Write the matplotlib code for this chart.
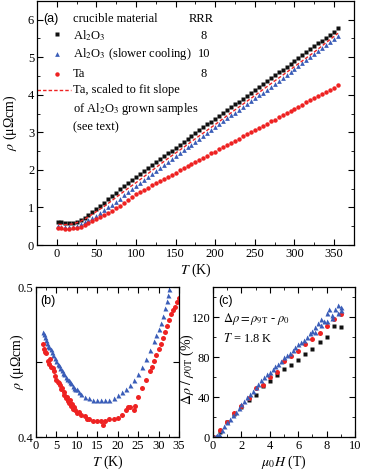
import matplotlib
matplotlib.use('Agg')
import matplotlib.pyplot as plt
from matplotlib.ticker import MultipleLocator, FixedLocator

plt.rcParams['font.family'] = 'serif'
plt.rcParams['font.serif'] = ['Liberation Serif', 'DejaVu Serif']
plt.rcParams['mathtext.fontset'] = 'stix'
plt.rcParams['font.size'] = 9
plt.rcParams['axes.labelsize'] = 10
plt.rcParams['xtick.direction'] = 'in'
plt.rcParams['ytick.direction'] = 'in'
plt.rcParams['xtick.top'] = True
plt.rcParams['ytick.right'] = True

# ---- panel (a): rho(T), 2 - 355 K
T_a = [2, 5, 10, 15, 20, 25, 30, 35, 40, 45, 50, 55, 60, 65, 70, 75, 80, 85, 90, 95,
       100, 105, 110, 115, 120, 125, 130, 135, 140, 145, 150, 155, 160, 165, 170, 175,
       180, 185, 190, 195, 200, 205, 210, 215, 220, 225, 230, 235, 240, 245, 250, 255,
       260, 265, 270, 275, 280, 285, 290, 295, 300, 305, 310, 315, 320, 325, 330, 335,
       340, 345, 350, 355]
rho_al2o3 = [0.62, 0.61, 0.59, 0.58, 0.59, 0.62, 0.67, 0.73, 0.80, 0.88, 0.96, 1.05, 1.13,
             1.22, 1.31, 1.39, 1.48, 1.57, 1.65, 1.73, 1.81, 1.89, 1.97, 2.05, 2.13, 2.20,
             2.28, 2.36, 2.44, 2.51, 2.59, 2.67, 2.74, 2.82, 2.90, 2.98, 3.05, 3.13, 3.21,
             3.28, 3.36, 3.44, 3.52, 3.59, 3.67, 3.75, 3.82, 3.90, 3.98, 4.06, 4.13, 4.21,
             4.29, 4.36, 4.44, 4.52, 4.60, 4.67, 4.75, 4.83, 4.90, 4.98, 5.06, 5.14, 5.21,
             5.29, 5.37, 5.44, 5.52, 5.60, 5.68, 5.77]
rho_al2o3_slow = [0.50, 0.49, 0.47, 0.47, 0.48, 0.51, 0.55, 0.60, 0.66, 0.72, 0.78, 0.85,
                  0.92, 1.00, 1.07, 1.15, 1.23, 1.32, 1.40, 1.49, 1.57, 1.66, 1.74, 1.82,
                  1.90, 1.98, 2.06, 2.13, 2.21, 2.29, 2.37, 2.44, 2.52, 2.60, 2.67, 2.75,
                  2.83, 2.91, 2.98, 3.06, 3.14, 3.21, 3.29, 3.37, 3.45, 3.52, 3.60, 3.68,
                  3.75, 3.83, 3.91, 3.99, 4.06, 4.14, 4.22, 4.29, 4.37, 4.45, 4.53, 4.60,
                  4.68, 4.76, 4.84, 4.92, 5.00, 5.08, 5.16, 5.24, 5.32, 5.40, 5.48, 5.56]
rho_ta = [0.45, 0.44, 0.43, 0.43, 0.44, 0.46, 0.49, 0.53, 0.58, 0.63, 0.68, 0.74, 0.79,
          0.85, 0.91, 0.98, 1.05, 1.12, 1.20, 1.27, 1.35, 1.41, 1.47, 1.53, 1.59, 1.65,
          1.70, 1.76, 1.82, 1.87, 1.93, 1.99, 2.04, 2.10, 2.16, 2.21, 2.27, 2.33, 2.38,
          2.44, 2.49, 2.55, 2.61, 2.66, 2.72, 2.78, 2.83, 2.89, 2.95, 3.00, 3.06, 3.12,
          3.17, 3.23, 3.29, 3.34, 3.40, 3.46, 3.51, 3.57, 3.63, 3.68, 3.74, 3.80, 3.85,
          3.91, 3.97, 4.02, 4.08, 4.14, 4.19, 4.25]
T_scaled = [2, 10, 20, 30, 40, 50, 60, 70, 80, 90, 100, 110, 120, 140, 160, 180, 200,
            225, 250, 275, 300, 325, 355]
rho_ta_scaled = [0.55, 0.54, 0.56, 0.63, 0.75, 0.89, 1.03, 1.19, 1.35, 1.51, 1.66, 1.82,
                 1.98, 2.30, 2.60, 2.91, 3.21, 3.60, 3.98, 4.37, 4.75, 5.14, 5.64]

# ---- panel (b): low-T zoom
T_b_slow = [1.8, 2.0, 2.2, 2.5, 2.8, 3.0, 3.3, 3.6, 4.0, 4.3, 4.6, 5.0, 5.3, 5.6, 6.0,
            6.3, 6.6, 7.0, 7.3, 7.6, 8.0, 8.3, 8.6, 9.0, 9.3, 9.6, 10.0, 10.5, 11, 12, 13,
            14, 15, 16, 17, 18, 19, 20, 21, 22, 23, 24, 25, 26, 27, 28, 29, 29.5, 30,
            30.5, 31, 31.5, 32, 32.3, 32.6]
rho_b_slow = [0.470, 0.469, 0.467, 0.465, 0.463, 0.461, 0.460, 0.459, 0.457, 0.455, 0.453,
              0.451, 0.449, 0.448, 0.446, 0.445, 0.443, 0.442, 0.440, 0.439, 0.438, 0.437,
              0.436, 0.434, 0.433, 0.432, 0.432, 0.430, 0.429, 0.427, 0.426, 0.425, 0.4245,
              0.4245, 0.425, 0.425, 0.426, 0.428, 0.430, 0.432, 0.435, 0.438, 0.442, 0.447,
              0.452, 0.458, 0.464, 0.468, 0.472, 0.476, 0.481, 0.486, 0.491, 0.495, 0.499]
T_b_ta = [1.8, 2.0, 2.3, 2.6, 3.0, 3.2, 3.5, 3.8, 4.2, 4.5, 4.8, 5.0, 5.3, 5.6, 6.0, 6.2,
          6.5, 6.8, 7.0, 7.3, 7.5, 7.8, 8.0, 8.3, 8.5, 8.8, 9.0, 9.3, 9.6, 10.0, 10.5, 11,
          12, 12.5, 13, 14, 15, 16, 16.5, 17, 18, 19, 20, 21, 22, 22.5, 23, 24, 24.3, 25,
          26, 27, 28, 28.5, 29, 29.5, 30, 30.5, 31, 31.5, 32, 32.5, 33, 33.5, 34, 34.5, 35]
rho_b_ta = [0.462, 0.459, 0.457, 0.456, 0.451, 0.449, 0.452, 0.447, 0.446, 0.444, 0.441,
            0.438, 0.437, 0.436, 0.435, 0.432, 0.433, 0.430, 0.428, 0.426, 0.427, 0.424,
            0.423, 0.425, 0.421, 0.422, 0.419, 0.420, 0.418, 0.416, 0.417, 0.415, 0.414,
            0.412, 0.412, 0.411, 0.411, 0.411, 0.408, 0.411, 0.412, 0.412, 0.413, 0.415,
            0.418, 0.420, 0.420, 0.418, 0.421, 0.427, 0.433, 0.438, 0.444, 0.447, 0.451,
            0.455, 0.459, 0.462, 0.466, 0.470, 0.474, 0.478, 0.482, 0.485, 0.487, 0.490,
            0.493]

# ---- panel (c): magnetoresistance at 1.8 K
H_c = [0, 0.5, 1, 1.5, 2, 2.5, 3, 3.5, 4, 4.5, 5, 5.5, 6, 6.5, 7, 7.5, 8, 8.5, 9]
mr_al2o3 = [0, 5, 15, 23, 30, 37, 42, 51, 56, 62, 68, 72, 77, 83, 88, 95, 100, 111, 110]
mr_ta = [0, 7, 15, 24, 31, 39, 49, 52, 60, 65, 76, 81, 86, 93, 98, 104, 111, 118, 123]
H_c_slow = [0, 0.1, 0.2, 0.3, 0.4, 0.6, 0.8, 1.0, 1.2, 1.4, 1.6, 1.8, 2.0, 2.2, 2.4, 2.6,
            2.8, 3.0, 3.2, 3.4, 3.6, 3.8, 4.0, 4.2, 4.4, 4.6, 4.8, 5.0, 5.2, 5.4, 5.6, 5.8,
            6.0, 6.2, 6.4, 6.6, 6.8, 7.0, 7.2, 7.4, 7.6, 7.8, 8.0, 8.2, 8.4, 8.6, 8.8, 9.0,
            7.2, 7.6, 8.0, 8.4, 8.8, 9.0]
mr_slow = [0, 0.5, 1, 2, 3, 7, 11, 15, 18, 22, 25, 29, 33, 36, 40, 43, 46, 50, 53, 57, 60,
           63, 65, 68, 71, 73, 76, 80, 82, 84, 87, 90, 93, 95, 97, 100, 104, 106, 110, 114,
           118, 116, 124, 128, 122, 128, 132, 130, 105, 112, 116, 119, 124, 127]

black = '#111111'
blue = '#3a5db8'
red = '#ee2222'
sans = ['Liberation Sans', 'DejaVu Sans']

fig = plt.figure(figsize=(3.66, 4.73), dpi=100)
ax_a = fig.add_axes([0.101, 0.482, 0.866, 0.516])
ax_b = fig.add_axes([0.098, 0.076, 0.391, 0.317])
ax_c = fig.add_axes([0.582, 0.076, 0.388, 0.317])

# (a)
ax_a.plot(T_a, rho_al2o3, 's', color=black, ms=3.2, mec='none')
ax_a.plot(T_a, rho_al2o3_slow, '^', color=blue, ms=3.4, mec='none')
ax_a.plot(T_a, rho_ta, 'o', color=red, ms=3.2, mec='none')
ax_a.plot(T_scaled, rho_ta_scaled, '--', color=red, lw=1.0, dashes=(2.5, 1.5))
ax_a.set_xlim(-25, 375)
ax_a.set_ylim(0, 6.5)
ax_a.xaxis.set_major_locator(MultipleLocator(50))
ax_a.xaxis.set_minor_locator(MultipleLocator(25))
ax_a.yaxis.set_major_locator(MultipleLocator(1))
ax_a.yaxis.set_minor_locator(MultipleLocator(0.5))
ax_a.set_xlabel(r'$T$ (K)', labelpad=1)
ax_a.set_ylabel(r'$\rho$ (μΩcm)')
ax_a.yaxis.set_label_coords(-0.058, 0.5)

tr = ax_a.transAxes
ax_a.text(0.019, 0.927, '(a)', transform=tr, va='center', family=sans, fontsize=9)
ax_a.text(0.114, 0.927, 'crucible material', transform=tr, va='center')
ax_a.text(0.517, 0.927, 'RRR', transform=tr, va='center', ha='center')
ax_a.plot([0.063], [0.866], 's', color=black, ms=3.2, mec='none', transform=tr, clip_on=False)
ax_a.text(0.114, 0.857, r'Al$_2$O$_3$', transform=tr, va='center')
ax_a.text(0.527, 0.857, '8', transform=tr, va='center', ha='center')
ax_a.plot([0.063], [0.784], '^', color=blue, ms=3.4, mec='none', transform=tr, clip_on=False)
ax_a.text(0.114, 0.784, r'Al$_2$O$_3$ (slower cooling)', transform=tr, va='center')
ax_a.text(0.527, 0.784, '10', transform=tr, va='center', ha='center')
ax_a.plot([0.063], [0.702], 'o', color=red, ms=3.2, mec='none', transform=tr, clip_on=False)
ax_a.text(0.114, 0.702, 'Ta', transform=tr, va='center')
ax_a.text(0.527, 0.702, '8', transform=tr, va='center', ha='center')
ax_a.plot([0.0, 0.108], [0.637, 0.637], '--', color=red, lw=1.0, dashes=(2.5, 1.5), transform=tr)
ax_a.text(0.114, 0.637, 'Ta, scaled to fit slope', transform=tr, va='center')
ax_a.text(0.114, 0.559, r'of Al$_2$O$_3$ grown samples', transform=tr, va='center')
ax_a.text(0.114, 0.482, '(see text)', transform=tr, va='center')

# (b)
ax_b.plot(T_b_slow, rho_b_slow, '^', color=blue, ms=3.6, mec='none')
ax_b.plot(T_b_ta, rho_b_ta, 'o', color=red, ms=3.6, mec='none')
ax_b.set_xlim(0, 35)
ax_b.set_ylim(0.4, 0.5)
ax_b.xaxis.set_major_locator(MultipleLocator(5))
ax_b.xaxis.set_minor_locator(MultipleLocator(2.5))
ax_b.yaxis.set_major_locator(FixedLocator([0.4, 0.45, 0.5]))
ax_b.set_yticklabels(['0.4', '', '0.5'])
ax_b.set_xlabel(r'$T$ (K)', labelpad=1)
ax_b.set_ylabel(r'$\rho$ (μΩcm)')
ax_b.yaxis.set_label_coords(-0.07, 0.5)
ax_b.text(0.084, 0.91, '(b)', transform=ax_b.transAxes, va='center', ha='center',
          family=sans, fontsize=9)

# (c)
ax_c.plot(H_c, mr_al2o3, 's', color=black, ms=3.4, mec='none')
ax_c.plot(H_c, mr_ta, 'o', color=red, ms=3.6, mec='none')
ax_c.plot(H_c_slow, mr_slow, '^', color=blue, ms=3.6, mec='none')
ax_c.set_xlim(0, 10)
ax_c.set_ylim(0, 150)
ax_c.xaxis.set_major_locator(MultipleLocator(2))
ax_c.xaxis.set_minor_locator(MultipleLocator(1))
ax_c.yaxis.set_major_locator(MultipleLocator(40))
ax_c.yaxis.set_minor_locator(MultipleLocator(20))
ax_c.set_xlabel(r'$\mu_0H$ (T)', labelpad=1)
ax_c.set_ylabel(r'$\Delta\rho\ /\ \rho_{0\mathrm{T}}$ (%)')
ax_c.yaxis.set_label_coords(-0.118, 0.45)
ax_c.text(0.085, 0.91, '(c)', transform=ax_c.transAxes, va='center', ha='center',
          family=sans, fontsize=9)
ax_c.text(0.07, 0.79, r'$\Delta\rho = \rho_{9\mathrm{T}}$ - $\rho_0$', transform=ax_c.transAxes,
          va='center')
ax_c.text(0.07, 0.655, r'$T$ = 1.8 K', transform=ax_c.transAxes, va='center')

for ax in (ax_a, ax_b, ax_c):
    ax.tick_params(which='major', length=4, width=0.8, pad=2)
    ax.tick_params(which='minor', length=2, width=0.6)
    for s in ax.spines.values():
        s.set_linewidth(0.9)

fig.savefig('out.png', dpi=100)
